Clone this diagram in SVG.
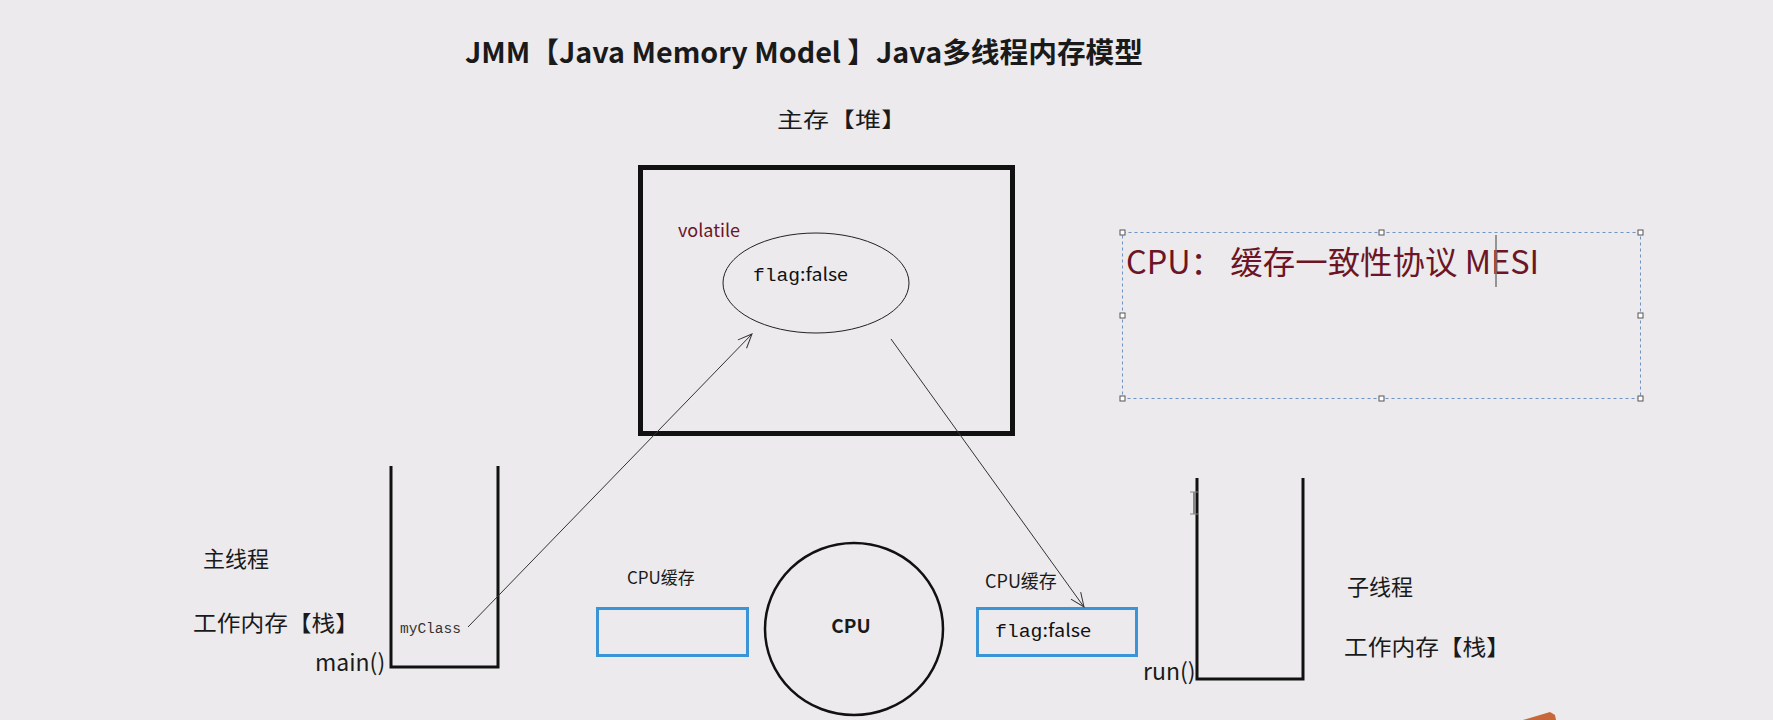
<svg xmlns="http://www.w3.org/2000/svg" width="1773" height="720" viewBox="0 0 1773 720">
<defs>
<style>
.cjk{font-family:"Noto Sans CJK SC","Liberation Sans",sans-serif;fill:#1a1a1a}
.mono{font-family:"Liberation Mono","DejaVu Sans Mono",monospace}
.red{fill:#6b1526}
.stack{fill:none;stroke:#111;stroke-width:3}
.cache{fill:none;stroke:#3a95d6;stroke-width:3}
.conn{fill:none;stroke:#333;stroke-width:1}
.handle{fill:#fff;stroke:#555;stroke-width:1}
</style>
<marker id="arr" markerUnits="userSpaceOnUse" markerWidth="18" markerHeight="18" refX="16" refY="9" orient="auto">
<path d="M2,3 L16,9 L2,15" fill="none" stroke="#333" stroke-width="1"/>
</marker>
</defs>
<rect width="1773" height="720" fill="#ecEAEC"/>

<g id="title">
<text class="cjk" x="465" y="63" font-size="28" font-weight="bold" textLength="678" lengthAdjust="spacingAndGlyphs">JMM【Java Memory Model 】Java多线程内存模型</text>
</g>

<g id="main-memory">
<text class="cjk" x="777" y="127" font-size="21" textLength="130" lengthAdjust="spacingAndGlyphs">主存【堆】</text>
<rect x="640.5" y="167.5" width="372" height="266" fill="none" stroke="#111" stroke-width="5"/>
<text class="cjk red" x="678" y="237" font-size="18">volatile</text>
</g>

<g id="flag-heap">
<ellipse cx="816" cy="283" rx="93" ry="50" fill="none" stroke="#222" stroke-width="1"/>
<text x="753" y="281" font-size="18" fill="#111" textLength="95" lengthAdjust="spacingAndGlyphs"><tspan class="mono">flag</tspan><tspan font-family="Noto Sans CJK SC, Liberation Sans, sans-serif">:false</tspan></text>
</g>

<g id="mesi-note">
<rect x="1122.5" y="232.5" width="518" height="166" fill="none" stroke="#6f93c4" stroke-width="1" stroke-dasharray="3,3"/>
<rect class="handle" x="1120" y="230" width="5" height="5"/>
<rect class="handle" x="1379" y="230" width="5" height="5"/>
<rect class="handle" x="1638" y="230" width="5" height="5"/>
<rect class="handle" x="1120" y="313" width="5" height="5"/>
<rect class="handle" x="1638" y="313" width="5" height="5"/>
<rect class="handle" x="1120" y="396" width="5" height="5"/>
<rect class="handle" x="1379" y="396" width="5" height="5"/>
<rect class="handle" x="1638" y="396" width="5" height="5"/>
<text class="cjk red" x="1126" y="274" font-size="32" textLength="413" lengthAdjust="spacingAndGlyphs">CPU： 缓存一致性协议 MESI</text>
<line x1="1496" y1="235" x2="1496" y2="287" stroke="#777" stroke-width="1.5"/>
</g>

<g id="main-thread">
<text class="cjk" x="203" y="567" font-size="22">主线程</text>
<text class="cjk" x="193" y="631" font-size="22" textLength="166" lengthAdjust="spacingAndGlyphs">工作内存【栈】</text>
<text class="cjk" x="315" y="671" font-size="23">main()</text>
<path class="stack" d="M391,466 V667 H498 V466"/>
<text class="mono" x="400" y="633" font-size="14.5" fill="#333">myClass</text>
</g>

<g id="cpu-cache-left">
<text class="cjk" x="627" y="584" font-size="17">CPU缓存</text>
<rect class="cache" x="597.5" y="608.5" width="150" height="47"/>
</g>

<g id="cpu">
<ellipse cx="854" cy="629" rx="89" ry="86" fill="none" stroke="#111" stroke-width="2.5"/>
<text class="cjk" x="851" y="633" font-size="19" font-weight="bold" text-anchor="middle">CPU</text>
</g>

<g id="cpu-cache-right">
<text class="cjk" x="985" y="588" font-size="18">CPU缓存</text>
<rect class="cache" x="977.5" y="608.5" width="159" height="47"/>
<text x="995" y="637" font-size="18" fill="#111" textLength="96" lengthAdjust="spacingAndGlyphs"><tspan class="mono">flag</tspan><tspan font-family="Noto Sans CJK SC, Liberation Sans, sans-serif">:false</tspan></text>
</g>

<g id="sub-thread">
<path class="stack" d="M1197,478 V679 H1303 V478"/>
<line x1="1194" y1="492" x2="1194" y2="514" stroke="#888" stroke-width="2"/>
<line x1="1190" y1="492" x2="1198" y2="492" stroke="#888" stroke-width="1"/>
<line x1="1190" y1="514" x2="1198" y2="514" stroke="#888" stroke-width="1"/>
<text class="cjk" x="1143" y="680" font-size="23">run()</text>
<text class="cjk" x="1347" y="595" font-size="22">子线程</text>
<text class="cjk" x="1344" y="655" font-size="22" textLength="166" lengthAdjust="spacingAndGlyphs">工作内存【栈】</text>
</g>

<g id="connectors">
<line class="conn" x1="468" y1="627" x2="752" y2="334" marker-end="url(#arr)"/>
<line class="conn" x1="891" y1="339" x2="1084" y2="607" marker-end="url(#arr)"/>
</g>

<polygon points="1523,720 1550,712 1555,715 1556,720" fill="#c8683a"/>
</svg>
